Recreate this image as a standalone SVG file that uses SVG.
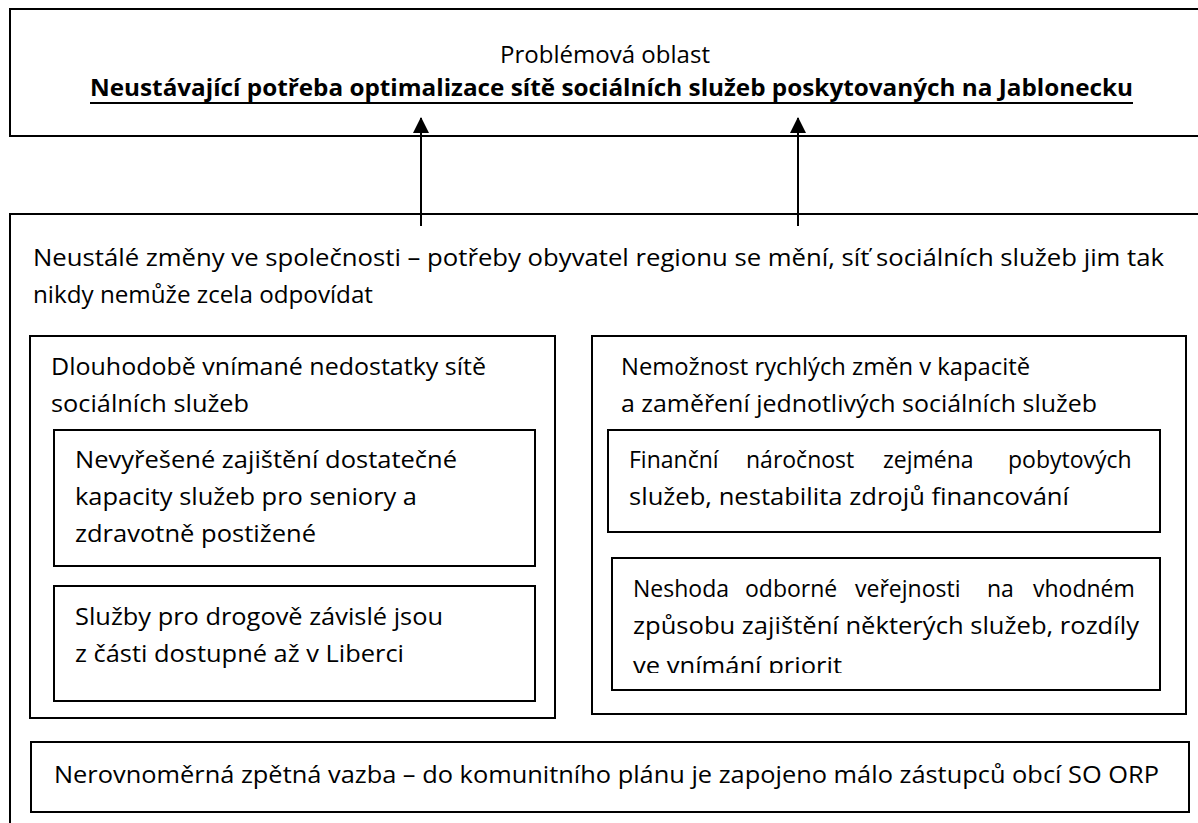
<svg xmlns="http://www.w3.org/2000/svg" width="1198" height="823" viewBox="0 0 1198 823">
<style>
.box{fill:#fff;stroke:#000;stroke-width:2}
.t{font-family:"Open Sans","Liberation Sans",sans-serif;font-size:23px;fill:#000}
.b{font-weight:bold}
.con{stroke:#000;stroke-width:2;fill:none}
</style>
<defs>
<marker id="ah" markerUnits="userSpaceOnUse" markerWidth="16" markerHeight="16" refX="15" refY="8" orient="auto">
<path d="M0,0 L16,8 L0,16 z" fill="#000"/>
</marker>
<clipPath id="clipR2"><rect x="612" y="558" width="548" height="115"/></clipPath>
</defs>
<rect width="1198" height="823" fill="#fff"/>

<g id="problem">
<rect class="box" x="10" y="9" width="1210" height="127"/>
<text class="t" x="500" y="63" textLength="210" lengthAdjust="spacingAndGlyphs">Problémová oblast</text>
<text class="t b" x="90" y="96" textLength="1043" lengthAdjust="spacingAndGlyphs">Neustávající potřeba optimalizace sítě sociálních služeb poskytovaných na Jablonecku</text>
<line x1="90" y1="103" x2="1133" y2="103" stroke="#000" stroke-width="2"/>
</g>

<g id="changes">
<rect class="box" x="10" y="214" width="1210" height="620"/>
<text class="t" x="33" y="266" textLength="1131" lengthAdjust="spacingAndGlyphs">Neustálé změny ve společnosti – potřeby obyvatel regionu se mění, síť sociálních služeb jim tak</text>
<text class="t" x="33" y="303" textLength="340" lengthAdjust="spacingAndGlyphs">nikdy nemůže zcela odpovídat</text>
</g>

<g id="longterm">
<rect class="box" x="30" y="336" width="525" height="382"/>
<text class="t" x="51" y="375" textLength="435" lengthAdjust="spacingAndGlyphs">Dlouhodobě vnímané nedostatky sítě</text>
<text class="t" x="51" y="412" textLength="198" lengthAdjust="spacingAndGlyphs">sociálních služeb</text>
</g>

<g id="capacity">
<rect class="box" x="54" y="430" width="481" height="136"/>
<text class="t" x="75" y="468" textLength="382" lengthAdjust="spacingAndGlyphs">Nevyřešené zajištění dostatečné</text>
<text class="t" x="75" y="505" textLength="342" lengthAdjust="spacingAndGlyphs">kapacity služeb pro seniory a</text>
<text class="t" x="75" y="542" textLength="241" lengthAdjust="spacingAndGlyphs">zdravotně postižené</text>
</g>

<g id="drugs">
<rect class="box" x="54" y="586" width="481" height="115"/>
<text class="t" x="75" y="625" textLength="368" lengthAdjust="spacingAndGlyphs">Služby pro drogově závislé jsou</text>
<text class="t" x="75" y="662" textLength="329" lengthAdjust="spacingAndGlyphs">z části dostupné až v Liberci</text>
</g>

<g id="rigidity">
<rect class="box" x="592" y="336" width="594" height="378"/>
<text class="t" x="621" y="375" textLength="409" lengthAdjust="spacingAndGlyphs">Nemožnost rychlých změn v kapacitě</text>
<text class="t" x="621" y="412" textLength="476" lengthAdjust="spacingAndGlyphs">a zaměření jednotlivých sociálních služeb</text>
</g>

<g id="finance">
<rect class="box" x="608" y="430" width="552" height="102"/>
<text class="t" y="468"><tspan x="629">Finanční</tspan><tspan x="746">náročnost</tspan><tspan x="883">zejména</tspan><tspan x="1008">pobytových</tspan></text>
<text class="t" x="629" y="505" textLength="440" lengthAdjust="spacingAndGlyphs">služeb, nestabilita zdrojů financování</text>
</g>

<g id="disagreement">
<rect class="box" x="612" y="558" width="548" height="132"/>
<text class="t" y="597"><tspan x="633">Neshoda</tspan><tspan x="745">odborné</tspan><tspan x="855">veřejnosti</tspan><tspan x="987">na</tspan><tspan x="1033">vhodném</tspan></text>
<text class="t" x="633" y="634" textLength="506" lengthAdjust="spacingAndGlyphs">způsobu zajištění některých služeb, rozdíly</text>
<text class="t" x="633" y="674" textLength="209" lengthAdjust="spacingAndGlyphs" clip-path="url(#clipR2)">ve vnímání priorit</text>
</g>

<g id="feedback">
<rect class="box" x="31" y="742" width="1158" height="70"/>
<text class="t" x="54" y="783" textLength="1105" lengthAdjust="spacingAndGlyphs">Nerovnoměrná zpětná vazba – do komunitního plánu je zapojeno málo zástupců obcí SO ORP</text>
</g>

<g id="connectors">
<line class="con" x1="421" y1="226" x2="421" y2="118" marker-end="url(#ah)"/>
<line class="con" x1="798" y1="226" x2="798" y2="118" marker-end="url(#ah)"/>
</g>
</svg>
